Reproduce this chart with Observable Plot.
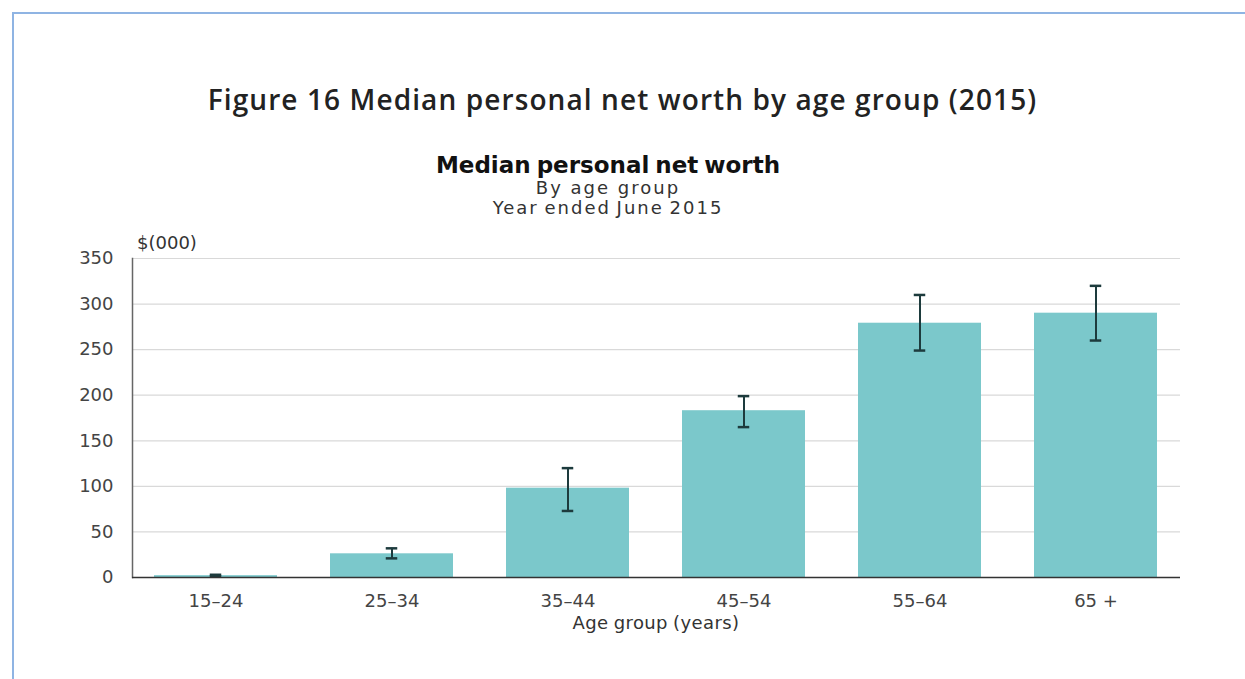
<!DOCTYPE html>
<html>
<head>
<meta charset="utf-8">
<script src="https://cdn.jsdelivr.net/npm/d3@7"></script>
<script src="https://cdn.jsdelivr.net/npm/@observablehq/plot@0.6"></script>
<style>
  html, body { margin: 0; padding: 0; background: #fff; }
  #page { position: relative; width: 1245px; height: 679px; overflow: hidden; background: #fff; }
  #frame { position: absolute; left: 12px; top: 12px; right: -10px; bottom: -10px;
           border-left: 2px solid #8fb4e3; border-top: 2px solid #8fb4e3; }
  .txt { position: absolute; text-align: center; white-space: nowrap; line-height: 1; }
  #title { left: 0; width: 1245px; top: 85px; font-family: "Open Sans", sans-serif; font-weight: 600;
           font-size: 28px; color: #222; letter-spacing: 1.1px; }
  #sub1 { left: 0; width: 1216px; top: 154px; font-family: "DejaVu Sans", sans-serif;
          font-weight: bold; font-size: 23px; color: #111; word-spacing: -2px; }
  #sub2 { left: 0; width: 1216px; top: 179px; font-family: "DejaVu Sans", sans-serif;
          font-size: 18px; color: #333; letter-spacing: 2px; }
  #sub3 { left: 0; width: 1216px; top: 199px; font-family: "DejaVu Sans", sans-serif;
          font-size: 18px; color: #333; letter-spacing: 2px; word-spacing: -2px; }
  #ylab { left: 137px; top: 234px; text-align: left; font-family: "DejaVu Sans", sans-serif;
          font-size: 18px; color: #333; }
  #xlab { left: 132px; width: 1048px; top: 614px; font-family: "DejaVu Sans", sans-serif;
          font-size: 18px; color: #333; letter-spacing: 0.4px; word-spacing: -1px; }
  #chart { position: absolute; left: 0; top: 235px; }
</style>
</head>
<body>
<div id="page">
  <div id="frame"></div>
  <div class="txt" id="title">Figure 16 Median personal net worth by age group (2015)</div>
  <div class="txt" id="sub1">Median personal net worth</div>
  <div class="txt" id="sub2">By age group</div>
  <div class="txt" id="sub3">Year ended June 2015</div>
  <div class="txt" id="ylab">$(000)</div>
  <div id="chart"></div>
  <div class="txt" id="xlab">Age group (years)</div>
</div>
<script>
const ageGroups = ["15–24", "25–34", "35–44", "45–54", "55–64", "65 +"];
const medianWorth = [2, 26, 98, 183, 279, 290];
const lowerCI = [1, 21, 73, 165, 249, 260];
const upperCI = [3, 32, 120, 199, 310, 320];
const yTicks = [0, 50, 100, 150, 200, 250, 300, 350];

const data = ageGroups.map((g, i) => ({group: g, value: medianWorth[i], lo: lowerCI[i], hi: upperCI[i]}));

const W = 1245, H = 400, mL = 132, mR = 65, mT = 23, mB = 58;
const padInner = 0.3, padOuter = 0.12;
const step = (W - mL - mR) / (ageGroups.length - padInner + 2 * padOuter);
const bw = step * (1 - padInner);
const capW = 12;
const capInset = (bw - capW) / 2;

const chart = Plot.plot({
  width: W,
  height: H,
  marginLeft: mL,
  marginRight: mR,
  marginTop: mT,
  marginBottom: mB,
  style: {fontFamily: "'DejaVu Sans', sans-serif", fontSize: "18px", color: "#333", background: "transparent"},
  x: {domain: ageGroups, paddingInner: padInner, paddingOuter: padOuter, label: null},
  y: {domain: [0, 350], label: null},
  marks: [
    Plot.gridY(yTicks, {stroke: "#d9d9d9", strokeOpacity: 1, strokeWidth: 1.2}),
    Plot.barY(data, {x: "group", y: "value", fill: "#7bc8cb"}),
    Plot.ruleX(data, {x: "group", y1: "lo", y2: "hi", stroke: "#1d3b3d", strokeWidth: 2}),
    Plot.tickY(data, {x: "group", y: "lo", stroke: "#1d3b3d", strokeWidth: 2.5, insetLeft: capInset, insetRight: capInset}),
    Plot.tickY(data, {x: "group", y: "hi", stroke: "#1d3b3d", strokeWidth: 2.5, insetLeft: capInset, insetRight: capInset}),
    Plot.axisY({ticks: yTicks, tickSize: 0, tickPadding: 19, label: null, fill: "#444", fontSize: 18}),
    Plot.axisX({tickSize: 0, tickPadding: 17, label: null, fill: "#444", fontSize: 18}),
    Plot.frame({anchor: "left", stroke: "#666", strokeWidth: 1.5}),
    Plot.ruleY([0], {stroke: "#333", strokeWidth: 1.5})
  ]
});
document.getElementById("chart").appendChild(chart);
</script>
</body>
</html>
